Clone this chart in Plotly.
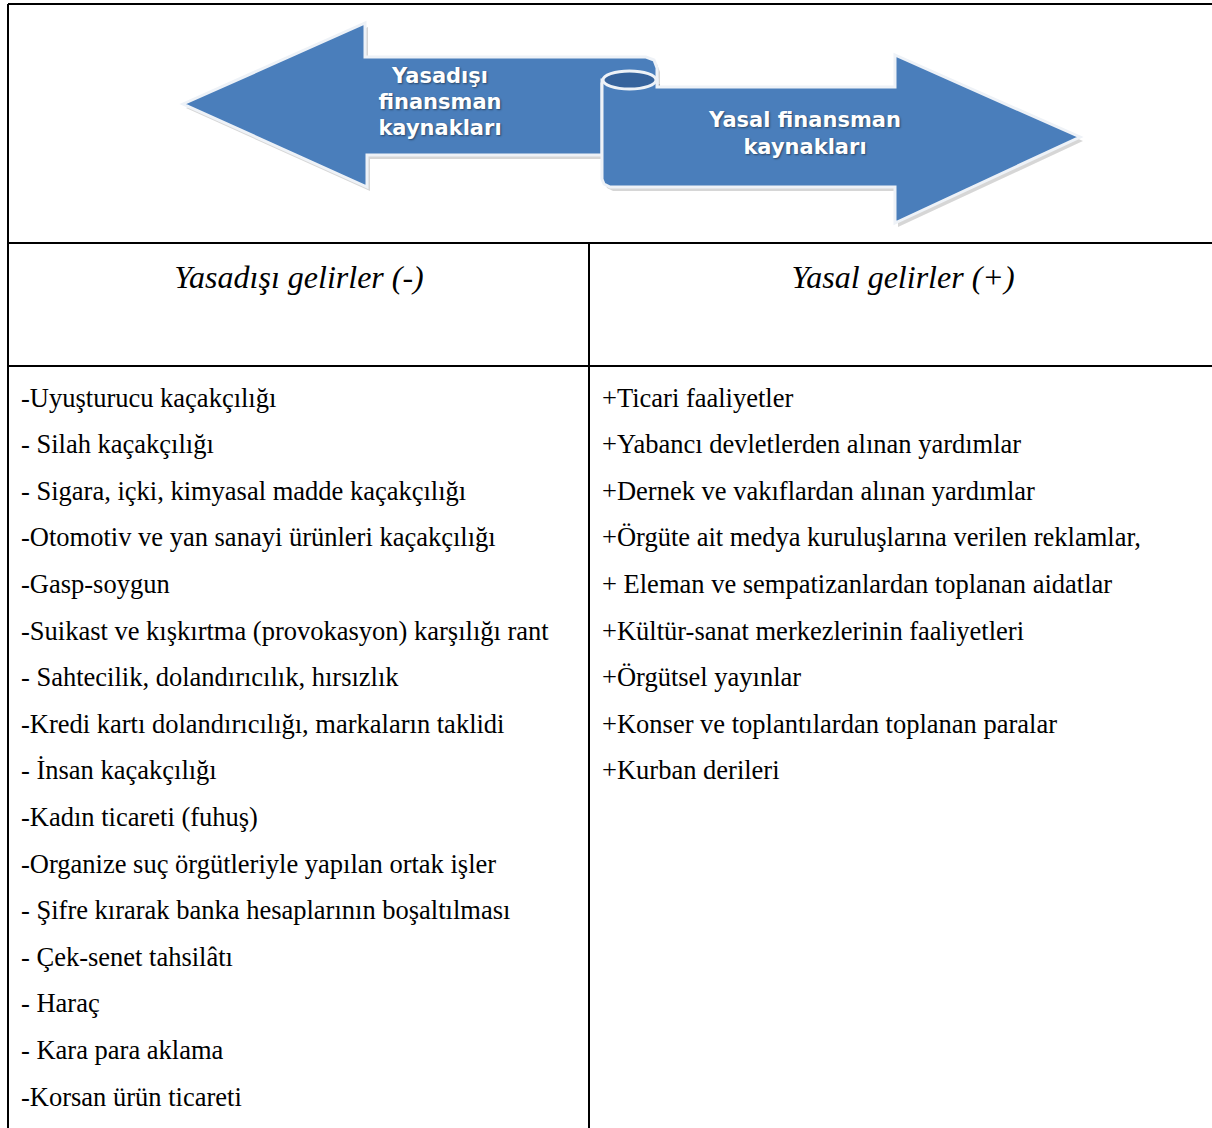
import plotly.graph_objects as go

W, H = 1212, 1128

# ---- data ----
left_arrow_lines = ["Yasadışı", "finansman", "kaynakları"]
right_arrow_lines = ["Yasal finansman", "kaynakları"]
headers = ["Yasadışı gelirler (-)", "Yasal gelirler (+)"]
illegal_items = [
    "-Uyuşturucu kaçakçılığı",
    "- Silah kaçakçılığı",
    "- Sigara, içki, kimyasal madde kaçakçılığı",
    "-Otomotiv ve yan sanayi ürünleri kaçakçılığı",
    "-Gasp-soygun",
    "-Suikast ve kışkırtma (provokasyon) karşılığı rant",
    "- Sahtecilik, dolandırıcılık, hırsızlık",
    "-Kredi kartı dolandırıcılığı, markaların taklidi",
    "- İnsan kaçakçılığı",
    "-Kadın ticareti (fuhuş)",
    "-Organize suç örgütleriyle yapılan ortak işler",
    "- Şifre kırarak banka hesaplarının boşaltılması",
    "- Çek-senet tahsilâtı",
    "- Haraç",
    "- Kara para aklama",
    "-Korsan ürün ticareti",
]
legal_items = [
    "+Ticari faaliyetler",
    "+Yabancı devletlerden alınan yardımlar",
    "+Dernek ve vakıflardan alınan yardımlar",
    "+Örgüte ait medya kuruluşlarına verilen reklamlar,",
    "+ Eleman ve sempatizanlardan toplanan aidatlar",
    "+Kültür-sanat merkezlerinin faaliyetleri",
    "+Örgütsel yayınlar",
    "+Konser ve toplantılardan toplanan paralar",
    "+Kurban derileri",
]

# ---- layout constants ----
TABLE_L, TABLE_T, COL_X, ROW1, ROW2, TABLE_R = 8, 4, 589, 243, 366, 1230
ROW_Y0, ROW_DY = 400, 46.6
LEFT_TX, RIGHT_TX = 21, 602
BLUE = "#4a7ebb"
DARK = "#36639c"
EDGE = "#eef2f7"
SERIF = "Liberation Serif"

fig = go.Figure()

shapes = []
line_style = dict(color="black", width=2)
# table lines
for s in [dict(x0=TABLE_L, x1=TABLE_R, y0=TABLE_T, y1=TABLE_T),
          dict(x0=TABLE_L, x1=TABLE_L, y0=TABLE_T, y1=H + 20),
          dict(x0=TABLE_L, x1=TABLE_R, y0=ROW1, y1=ROW1),
          dict(x0=TABLE_L, x1=TABLE_R, y0=ROW2, y1=ROW2),
          dict(x0=COL_X, x1=COL_X, y0=ROW1, y1=H + 20)]:
    shapes.append(dict(type="line", line=line_style, layer="below", **s))

def poly(pts):
    return "M " + " L ".join(f"{x},{y}" for x, y in pts) + " Z"

def shifted(pts, dx, dy):
    return [(x + dx, y + dy) for x, y in pts]

left_arrow = [(183, 104), (365, 23), (365, 57), (646, 57), (654, 60), (657, 68),
              (657, 84), (602, 84), (602, 155), (367, 155), (367, 187)]
right_arrow = [(602, 80), (602, 179), (604, 184), (610, 187), (895, 187), (895, 223),
               (1080, 137), (895, 55), (895, 87), (657, 87), (657, 80)]

# shadows
for pts in (left_arrow, right_arrow):
    shapes.append(dict(type="path", path=poly(shifted(pts, 3, 4)), fillcolor="rgba(0,0,0,0.16)",
                       line=dict(width=0), layer="below"))
shapes.append(dict(type="path", path=poly(left_arrow), fillcolor=BLUE,
                   line=dict(color=EDGE, width=3), layer="below"))
shapes.append(dict(type="path", path=poly(right_arrow), fillcolor=BLUE,
                   line=dict(color=EDGE, width=3), layer="below"))
# top of the scroll roll
shapes.append(dict(type="circle", x0=603, x1=656, y0=71, y1=89, fillcolor=DARK,
                   line=dict(color=EDGE, width=3), layer="below"))

# arrow texts
arrow_font = dict(family="DejaVu Sans", size=21, color="white", weight="bold",
                  shadow="1px 1px 2px rgba(0,0,0,0.45)")
fig.add_trace(go.Scatter(x=[440] * len(left_arrow_lines),
                         y=[78 + 26 * i for i in range(len(left_arrow_lines))],
                         text=left_arrow_lines, mode="text", textposition="middle center",
                         textfont=arrow_font, hoverinfo="skip"))
fig.add_trace(go.Scatter(x=[805] * len(right_arrow_lines),
                         y=[122 + 27 * i for i in range(len(right_arrow_lines))],
                         text=right_arrow_lines, mode="text", textposition="middle center",
                         textfont=arrow_font, hoverinfo="skip"))

# headers
fig.add_trace(go.Scatter(x=[299, 903], y=[280, 280], text=headers, mode="text",
                         textposition="middle center",
                         textfont=dict(family=SERIF, size=32, style="italic", color="black"),
                         hoverinfo="skip"))

# items
body_font = dict(family=SERIF, size=26.5, color="black")
fig.add_trace(go.Scatter(x=[LEFT_TX] * len(illegal_items),
                         y=[ROW_Y0 + ROW_DY * i for i in range(len(illegal_items))],
                         text=illegal_items, mode="text", textposition="middle right",
                         textfont=body_font, hoverinfo="skip"))
fig.add_trace(go.Scatter(x=[RIGHT_TX] * len(legal_items),
                         y=[ROW_Y0 + ROW_DY * i for i in range(len(legal_items))],
                         text=legal_items, mode="text", textposition="middle right",
                         textfont=body_font, hoverinfo="skip"))

fig.update_layout(
    width=W, height=H, margin=dict(l=0, r=0, t=0, b=0),
    paper_bgcolor="white", plot_bgcolor="white", showlegend=False,
    shapes=shapes,
    xaxis=dict(range=[0, W], visible=False, fixedrange=True),
    yaxis=dict(range=[H, 0], visible=False, fixedrange=True),
)

fig.write_html("out.html", config={"displayModeBar": False},
               post_script="document.body.style.margin='0';document.body.style.overflow='hidden';")
